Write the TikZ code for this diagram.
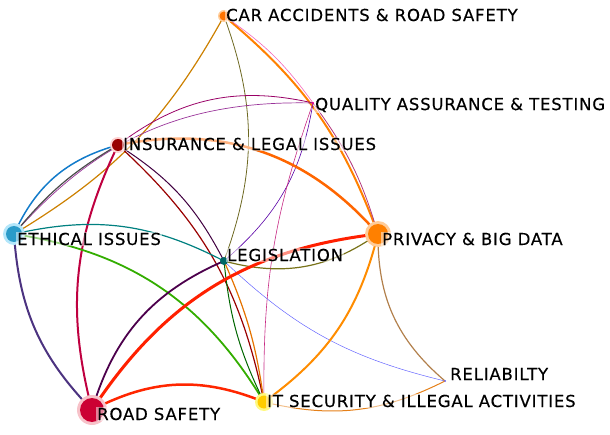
\documentclass[tikz,border=0pt]{standalone}
\usepackage{fontspec}
\newfontfamily\lab[LetterSpace=5,FakeBold=0.4]{DejaVu Sans}
\begin{document}
\begin{tikzpicture}[x=1pt,y=1pt,
  lbl/.style={anchor=west,font=\lab\fontsize{16.5}{18}\selectfont,inner sep=1pt,text=black,fill=white,fill opacity=.5,text opacity=1},
  e/.style={line width=#1},e/.default=1.5]
\useasboundingbox (0,0) rectangle (610,434);
% dot positions (y up)
\coordinate (C) at (224,418);
\coordinate (Q) at (313,331);
\coordinate (I) at (118,289);
\coordinate (E) at (14,200);
\coordinate (L) at (224,173);
\coordinate (P) at (378,200);
\coordinate (R) at (445,53);
\coordinate (RS) at (92,24);
\coordinate (IT) at (264,32);
% edges
\draw[e=1.2,color=orange!60!olive] (E) to[bend right=15] (C);
\draw[e=0.8,color=olive!70!black] (L) to[bend right=20] (C);
\draw[e=2,color=orange] (C) to[bend left=15] (P);
\draw[e=0.6,color=magenta!60] (C) to[bend left=10] (Q);
\draw[e=0.8,color=magenta!70!black] (Q) to[bend left=10] (P);
\draw[e=0.8,color=purple!80!blue] (I) to[bend left=25] (Q);
\draw[e=0.7,color=violet!80] (E) to[bend left=25] (Q);
\draw[e=0.6,color=violet!70!blue] (L) to[bend right=20] (Q);
\draw[e=0.6,color=magenta!80!black] (IT) to[bend left=10] (Q);
\draw[e=1.5,color=cyan!60!blue] (I) to[bend right=25] (E);
\draw[e=1.2,color=gray!60!black] (E) to[bend left=10] (I);
\draw[e=2,color=purple] (RS) to[bend left=20] (I);
\draw[e=1,color=violet!50!black] (I) to[bend left=15] (L);
\draw[e=1.2,color=red!60!black] (I) to[bend left=18] (IT);
\draw[e=2.5,color=orange!80!red] (I) to[bend left=30] (P);
\draw[e=1.2,color=teal] (E) to[bend left=20] (L);
\draw[e=1.8,color=green!60!black!80!yellow] (E) to[bend left=25] (IT);
\draw[e=2,color=violet!60!teal] (RS) to[bend left=20] (E);
\draw[e=1.2,color=olive!80!black] (L) to[bend right=25] (P);
\draw[e=1.8,color=violet!60!black] (RS) to[bend left=25] (L);
\draw[e=0.5,color=blue!60] (L) to[bend right=15] (R);
\draw[e=1,color=green!40!black] (L) to[bend right=10] (IT);
\draw[e=1.2,color=orange!90!black] (L) to[bend left=8] (IT);
\draw[e=3,color=red!75!orange] (RS) to[bend left=25] (P);
\draw[e=2,color=orange!90!yellow] (P) to[bend left=20] (IT);
\draw[e=1.2,color=brown!80!gray] (P) to[bend right=25] (R);
\draw[e=1,color=orange!60!brown] (IT) to[bend right=20] (R);
\draw[e=2.5,color=red!70!orange] (RS) to[bend left=25] (IT);
% dots
\fill[pink!80!purple!60] (RS) circle (15);
\fill[purple!80!red] (RS) circle (12);
\fill[orange!40] (P) circle (13);
\fill[orange] (P) circle (10);
\fill[cyan!30] (E) circle (11);
\fill[cyan!60!teal] (E) circle (8);
\fill[yellow!50] (IT) circle (9);
\fill[orange!40!yellow] (IT) circle (6.5);
\fill[pink!70] (I) circle (8);
\fill[red!60!black] (I) circle (6);
\fill[orange!40] (C) circle (6);
\fill[orange!90!red] (C) circle (4.5);
\fill[teal!80!black] (L) circle (4);
\fill[magenta] (Q) circle (1.2);
\fill[blue!60] (R) circle (1);
% labels
\node[lbl] (tC) at (225,419) {CAR ACCIDENTS \& ROAD SAFETY};
\node[lbl] (tQ) at (314,329) {QUALITY ASSURANCE \& TESTING};
\node[lbl] (tI) at (122,290) {INSURANCE \& LEGAL ISSUES};
\node[lbl] (tE) at (16,195) {ETHICAL ISSUES};
\node[lbl] (tL) at (226,179) {LEGISLATION};
\node[lbl] (tP) at (381,195) {PRIVACY \& BIG DATA};
\node[lbl] (tR) at (449,60) {RELIABILTY};
\node[lbl] (tRS) at (96,20) {ROAD SAFETY};
\node[lbl] (tIT) at (266,33) {IT SECURITY \& ILLEGAL ACTIVITIES};
\end{tikzpicture}
\end{document}
